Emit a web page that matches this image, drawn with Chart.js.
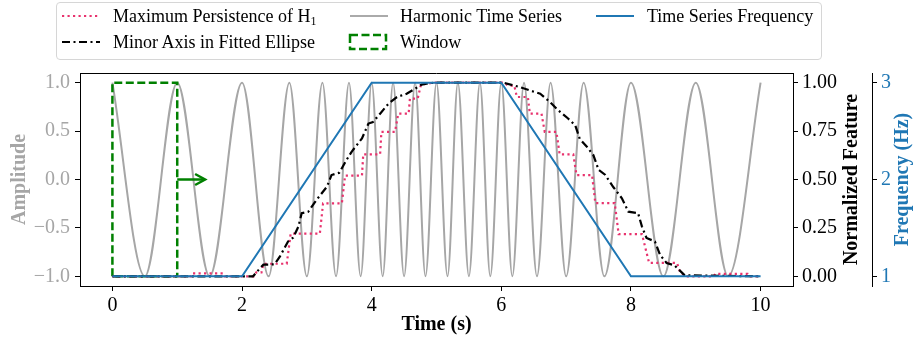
<!DOCTYPE html>
<html>
<head>
<meta charset="utf-8">
<script src="https://cdn.jsdelivr.net/npm/chart.js@4"></script>
<style>
  html, body { margin: 0; padding: 0; background: #fff; }
  #wrap { position: relative; width: 914px; height: 343px; }
  #legend {
    position: absolute; left: 56px; top: 2px; width: 764px; height: 56px;
    border: 1px solid #d6d6d6; border-radius: 4px; background: rgba(255,255,255,0.85);
  }
  .lg { position: absolute; font-family: 'Liberation Serif', serif; font-size: 18px; line-height: 20px; color: #000; white-space: nowrap; }
  .lg sub { font-size: 12px; vertical-align: -3px; line-height: 0; }
  .sw { position: absolute; }
</style>
</head>
<body>
<div id="wrap">
  <canvas id="chart" width="914" height="343"></canvas>
  <div id="legend"></div>
  <!-- legend swatches + labels -->
  <svg class="sw" style="left:60px;top:6px" width="42" height="20"><line x1="2" y1="10" x2="40" y2="10" stroke="#e8336e" stroke-width="2.2" stroke-dasharray="2.2 3.3"/></svg>
  <div class="lg" style="left:113px;top:6px">Maximum Persistence of H<sub>1</sub></div>
  <svg class="sw" style="left:60px;top:32px" width="42" height="20"><line x1="2" y1="10" x2="40" y2="10" stroke="#000" stroke-width="2.2" stroke-dasharray="8 3.5 2 3.5"/></svg>
  <div class="lg" style="left:113px;top:32px">Minor Axis in Fitted Ellipse</div>
  <svg class="sw" style="left:348px;top:6px" width="42" height="20"><line x1="2" y1="10" x2="40" y2="10" stroke="#aaaaaa" stroke-width="2"/></svg>
  <div class="lg" style="left:400px;top:6px">Harmonic Time Series</div>
  <svg class="sw" style="left:348px;top:32px" width="42" height="20"><rect x="2" y="3" width="36" height="14" fill="none" stroke="#008000" stroke-width="2.5" stroke-dasharray="8 3.5"/></svg>
  <div class="lg" style="left:400px;top:32px">Window</div>
  <svg class="sw" style="left:594px;top:6px" width="42" height="20"><line x1="2" y1="10" x2="40" y2="10" stroke="#1f77b4" stroke-width="2"/></svg>
  <div class="lg" style="left:647px;top:6px">Time Series Frequency</div>
</div>
<script>
// harmonic signal: times of its peaks/troughs
const harmonicTimes = [0, 0.5, 1, 1.5, 2, 2.41, 2.73, 3.0, 3.24, 3.45, 3.65, 3.83, 4.0,
  4.17, 4.33, 4.5, 4.67, 4.83, 5.0, 5.17, 5.33, 5.5, 5.67, 5.83, 6.0,
  6.17, 6.35, 6.55, 6.76, 7.0, 7.27, 7.59, 8.0, 8.5, 9.0, 9.5, 10.0];
const harmonicValues = [1, -1, 1, -1, 1, -1, 1, -1, 1, -1, 1, -1, 1,
  -1, 1, -1, 1, -1, 1, -1, 1, -1, 1, -1, 1,
  -1, 1, -1, 1, -1, 1, -1, 1, -1, 1, -1, 1];

const freqTimes = [0, 2, 4, 6, 8, 10];
const freqValues = [1, 1, 3, 3, 1, 1];

const persistTimes = [0, 1.22, 1.24, 1.71, 1.73, 2.18, 2.22, 2.30, 2.33, 2.69, 2.75, 3.20, 3.25, 3.54, 3.59,
  3.85, 3.87, 4.13, 4.15, 4.36, 4.41, 4.57, 4.59, 4.71, 4.76, 4.95, 6.05, 6.10, 6.20, 6.24,
  6.41, 6.44, 6.62, 6.67, 6.85, 6.90, 7.11, 7.16, 7.40, 7.45, 7.75, 7.81, 8.17, 8.28, 8.71,
  8.76, 8.85, 9.28, 9.30, 9.80, 9.82, 10];
const persistValues = [0, 0, 0.015, 0.015, 0, 0, 0.02, 0.02, 0.065, 0.065, 0.22, 0.22, 0.377, 0.377, 0.52,
  0.52, 0.63, 0.63, 0.746, 0.746, 0.84, 0.84, 0.918, 0.918, 0.99, 1.0, 1.0, 0.985, 0.985, 0.926,
  0.926, 0.84, 0.84, 0.746, 0.746, 0.63, 0.63, 0.523, 0.523, 0.378, 0.378, 0.218, 0.218, 0.069, 0.069,
  0.02, 0, 0, 0.013, 0.013, 0, 0];

const minorTimes = [0, 2.17, 2.28, 2.33, 2.50, 2.58, 2.71, 2.79, 2.87, 2.92, 3.02, 3.15, 3.31, 3.38, 3.50,
  3.61, 3.69, 3.85, 3.95, 4.02, 4.13, 4.26, 4.39, 4.54, 4.67, 4.77, 4.90, 5.00, 6.03, 6.29,
  6.44, 6.60, 6.75, 6.88, 7.03, 7.14, 7.21, 7.32, 7.42, 7.50, 7.60, 7.73, 7.86, 7.96, 8.11,
  8.17, 8.24, 8.37, 8.45, 8.55, 8.67, 8.83, 10];
const minorValues = [0, 0, 0.043, 0.06, 0.062, 0.10, 0.18, 0.20, 0.257, 0.326, 0.333, 0.395, 0.463, 0.523, 0.535,
  0.60, 0.643, 0.712, 0.789, 0.797, 0.84, 0.892, 0.926, 0.943, 0.969, 0.99, 0.998, 1.0, 1.0, 0.977,
  0.96, 0.943, 0.90, 0.857, 0.815, 0.78, 0.71, 0.669, 0.626, 0.55, 0.525, 0.46, 0.403, 0.334, 0.326,
  0.257, 0.198, 0.18, 0.11, 0.069, 0.057, 0.005, 0];

const windowX = [0, 0, 1, 1, 0];
const windowY = [-1, 1, 1, -1, -1];
const arrowX = [1.0, 1.43];
const arrowY = [0, 0];

const xTicks = [0, 2, 4, 6, 8, 10];
const ampTicks = [-1, -0.5, 0, 0.5, 1];
const normTicks = [0, 0.25, 0.5, 0.75, 1];
const freqTicks = [1, 2, 3];

const pts = (xs, ys) => xs.map((x, i) => ({ x: x, y: ys[i] }));
const tickFont = { family: 'Liberation Serif', size: 20 };
const titleFont = { family: 'Liberation Serif', size: 20, weight: 'bold' };
const BLUE = '#1f77b4', GREY = '#a6a6a6', GREEN = '#008000';

const frame = {
    id: 'frame',
    afterDraw(chart) {
        const { ctx, chartArea: a, scales } = chart;
        ctx.save();
        // top spine
        ctx.strokeStyle = '#000';
        ctx.lineWidth = 1;
        ctx.beginPath();
        ctx.moveTo(a.left, a.top + 0.5);
        ctx.lineTo(a.right, a.top + 0.5);
        ctx.stroke();
        // window arrow head
        const tx = scales.x.getPixelForValue(arrowX[1]);
        const ty = scales.yAmp.getPixelForValue(arrowY[1]);
        ctx.strokeStyle = GREEN;
        ctx.lineWidth = 2.5;
        ctx.lineJoin = 'miter';
        ctx.beginPath();
        ctx.moveTo(tx - 10, ty - 5.5);
        ctx.lineTo(tx, ty);
        ctx.lineTo(tx - 10, ty + 5.5);
        ctx.stroke();
        // right-hand axis titles, reading bottom to top
        const cy = (a.top + a.bottom) / 2;
        ctx.font = 'bold 20px "Liberation Serif"';
        ctx.textAlign = 'center';
        ctx.textBaseline = 'middle';
        [[scales.yNorm.right - 20, 'Normalized Feature', '#000'],
         [scales.yFreq.right - 11, 'Frequency (Hz)', BLUE]].forEach(([x, t, c]) => {
            ctx.save();
            ctx.translate(x, cy);
            ctx.rotate(-Math.PI / 2);
            ctx.fillStyle = c;
            ctx.fillText(t, 0, 0);
            ctx.restore();
        });
        ctx.restore();
    }
};

new Chart(document.getElementById('chart'), {
    type: 'scatter',
    data: {
        datasets: [
            { label: 'Time Series Frequency', data: pts(freqTimes, freqValues), yAxisID: 'yFreq',
              borderColor: BLUE, borderWidth: 2 },
            { label: 'Minor Axis in Fitted Ellipse', data: pts(minorTimes, minorValues), yAxisID: 'yNorm',
              borderColor: '#000', borderWidth: 2.2, borderDash: [8, 3.5, 2, 3.5] },
            { label: 'Maximum Persistence of H1', data: pts(persistTimes, persistValues), yAxisID: 'yNorm',
              borderColor: '#e8336e', borderWidth: 2.2, borderDash: [2.2, 3.3] },
            { label: 'Window', data: pts(windowX, windowY), yAxisID: 'yAmp',
              borderColor: GREEN, borderWidth: 2.5, borderDash: [8, 3.5] },
            { label: 'arrow', data: pts(arrowX, arrowY), yAxisID: 'yAmp',
              borderColor: GREEN, borderWidth: 2.5 },
            { label: 'Harmonic Time Series', data: pts(harmonicTimes, harmonicValues), yAxisID: 'yAmp',
              borderColor: GREY, borderWidth: 2, cubicInterpolationMode: 'monotone' }
        ]
    },
    options: {
        responsive: false,
        animation: false,
        showLine: true,
        elements: { point: { radius: 0 }, line: { tension: 0, fill: false } },
        layout: { padding: { top: 73, left: 0, right: 0, bottom: 0 } },
        plugins: { legend: { display: false }, tooltip: { enabled: false } },
        scales: {
            x: {
                type: 'linear', min: -0.5, max: 10.5,
                afterBuildTicks: s => { s.ticks = xTicks.map(v => ({ value: v })); },
                afterFit: s => { s.height = 57; },
                ticks: { font: tickFont, color: '#000', padding: 3, maxRotation: 0 },
                grid: { drawOnChartArea: false, tickLength: 5, color: '#000' },
                border: { color: '#000' },
                title: { display: true, text: 'Time (s)', font: titleFont, color: '#000', padding: { top: 0, bottom: 6 } }
            },
            yAmp: {
                position: 'left', min: -1.1, max: 1.1,
                afterBuildTicks: s => { s.ticks = ampTicks.map(v => ({ value: v })); },
                afterFit: s => { s.width = 80; },
                ticks: { font: tickFont, color: GREY, padding: 5,
                         callback: v => (v < 0 ? '\u2212' : '') + Math.abs(v).toFixed(1) },
                grid: { drawOnChartArea: false, tickLength: 5, color: '#000' },
                border: { color: '#000' },
                title: { display: true, text: 'Amplitude', font: titleFont, color: GREY, padding: { top: 8 } }
            },
            yNorm: {
                position: 'right', min: -0.05, max: 1.05,
                afterBuildTicks: s => { s.ticks = normTicks.map(v => ({ value: v })); },
                afterFit: s => { s.width = 79; },
                ticks: { font: tickFont, color: '#000', padding: 4, callback: v => v.toFixed(2) },
                grid: { drawOnChartArea: false, tickLength: 5, color: '#000' },
                border: { color: '#000' }
            },
            yFreq: {
                position: 'right', min: 0.9, max: 3.1,
                afterBuildTicks: s => { s.ticks = freqTicks.map(v => ({ value: v })); },
                afterFit: s => { s.width = 42; },
                ticks: { font: tickFont, color: BLUE, padding: 4, callback: v => String(v) },
                grid: { drawOnChartArea: false, tickLength: 5, color: '#000' },
                border: { color: '#000' }
            }
        }
    },
    plugins: [frame]
});
</script>
</body>
</html>
